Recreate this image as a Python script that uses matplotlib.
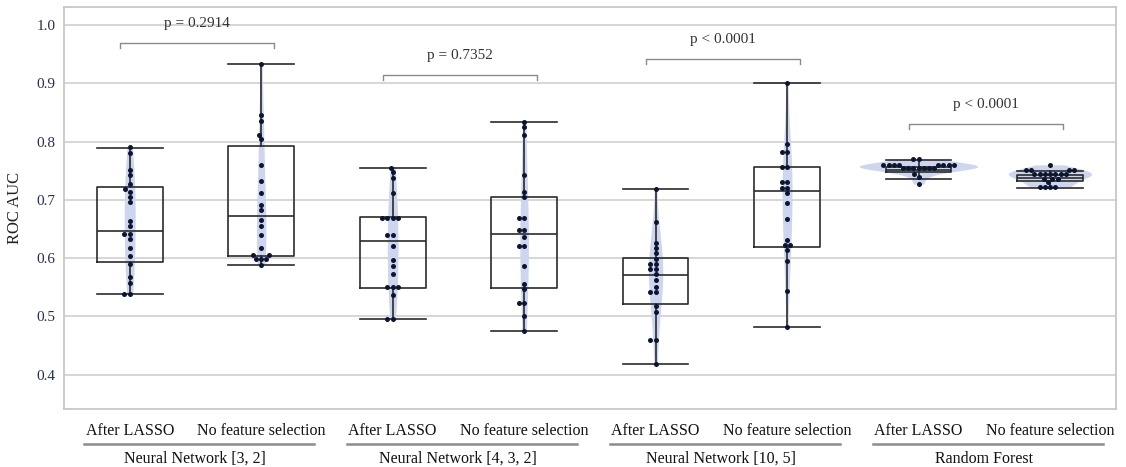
import numpy as np
import pandas as pd
import seaborn as sns
import matplotlib.pyplot as plt
import matplotlib.transforms as mtransforms

# ROC AUC per run
nn32_lasso = [0.790, 0.781, 0.751, 0.742, 0.727, 0.718, 0.714, 0.705, 0.696, 0.664, 0.655,
              0.642, 0.642, 0.632, 0.617, 0.604, 0.590, 0.567, 0.557, 0.539, 0.539]
nn32_full = [0.934, 0.845, 0.835, 0.812, 0.804, 0.759, 0.733, 0.712, 0.691, 0.682,
             0.666, 0.655, 0.639, 0.617, 0.605, 0.605, 0.598, 0.598, 0.598, 0.588]
nn432_lasso = [0.755, 0.747, 0.738, 0.711, 0.668, 0.668, 0.668, 0.668, 0.639, 0.639,
               0.621, 0.597, 0.587, 0.573, 0.551, 0.551, 0.551, 0.536, 0.496, 0.496]
nn432_full = [0.834, 0.825, 0.811, 0.743, 0.714, 0.705, 0.668, 0.668, 0.648, 0.648,
              0.636, 0.621, 0.621, 0.586, 0.556, 0.547, 0.523, 0.523, 0.500, 0.475]
nn105_lasso = [0.718, 0.662, 0.626, 0.617, 0.608, 0.599, 0.590, 0.590, 0.581, 0.581,
               0.572, 0.563, 0.551, 0.541, 0.541, 0.517, 0.507, 0.460, 0.460, 0.419]
nn105_full = [0.901, 0.796, 0.782, 0.782, 0.756, 0.756, 0.730, 0.730, 0.720, 0.720,
              0.711, 0.694, 0.667, 0.631, 0.622, 0.622, 0.614, 0.595, 0.544, 0.482]
rf_lasso = [0.770, 0.770, 0.760, 0.760, 0.760, 0.760, 0.760, 0.760, 0.760, 0.760,
            0.754, 0.754, 0.754, 0.754, 0.754, 0.754, 0.754, 0.745, 0.740, 0.727]
rf_full = [0.760, 0.751, 0.751, 0.751, 0.751, 0.744, 0.744, 0.744, 0.744, 0.744,
           0.744, 0.744, 0.735, 0.735, 0.735, 0.730, 0.722, 0.722, 0.722, 0.722]

# box statistics as drawn: whisker low, q1, median, q3, whisker high
box_stats = [
    (0.538, 0.593, 0.647, 0.722, 0.789),
    (0.588, 0.603, 0.672, 0.792, 0.934),
    (0.496, 0.549, 0.630, 0.670, 0.755),
    (0.475, 0.548, 0.641, 0.705, 0.834),
    (0.419, 0.521, 0.571, 0.600, 0.718),
    (0.482, 0.619, 0.715, 0.756, 0.901),
    (0.736, 0.747, 0.752, 0.757, 0.768),
    (0.720, 0.732, 0.738, 0.742, 0.750),
]

sub_labels = ['After LASSO', 'No feature selection']
models = ['Neural Network [3, 2]', 'Neural Network [4, 3, 2]',
          'Neural Network [10, 5]', 'Random Forest']
p_labels = ['p = 0.2914', 'p = 0.7352', 'p < 0.0001', 'p < 0.0001']
bracket_y = [0.969, 0.914, 0.942, 0.831]

series = [nn32_lasso, nn32_full, nn432_lasso, nn432_full,
          nn105_lasso, nn105_full, rf_lasso, rf_full]
order = ['g%d' % i for i in range(len(series))]
df = pd.DataFrame({'group': np.repeat(order, [len(s) for s in series]),
                   'auc': np.concatenate(series)})

plt.rcParams['font.family'] = ['Liberation Serif', 'DejaVu Serif']

fig = plt.figure(figsize=(11.26, 4.67), dpi=100)
ax = fig.add_axes([0.0568, 0.1242, 0.9341, 0.8608])

ax.set_axisbelow(True)
ax.yaxis.grid(True, color='#d6d6d6', linewidth=1.4)

sns.violinplot(data=df, x='group', y='auc', order=order, ax=ax, color='#cdd6ee',
               inner=None, linewidth=0, cut=0, density_norm='area', width=0.9,
               bw_adjust=1.3, saturation=1)
for coll in ax.collections:
    coll.set_zorder(1)

stats = [dict(whislo=s[0], q1=s[1], med=s[2], q3=s[3], whishi=s[4], fliers=[])
         for s in box_stats]
line_kw = dict(color='#2b2b2b', linewidth=1.2)
ax.bxp(stats, positions=range(len(stats)), widths=0.5, showfliers=False,
       patch_artist=False, boxprops=line_kw, whiskerprops=line_kw,
       capprops=line_kw, medianprops=line_kw, capwidths=0.5,
       manage_ticks=False, zorder=2)

sns.swarmplot(data=df, x='group', y='auc', order=order, ax=ax, color='#0c1633',
              size=3.6, zorder=3)

ax.set_xlim(-0.5, 7.5)
ax.set_ylim(0.341, 1.031)
ax.set_yticks([0.4, 0.5, 0.6, 0.7, 0.8, 0.9, 1.0])
ax.set_yticklabels(['0.4', '0.5', '0.6', '0.7', '0.8', '0.9', '1.0'])
ax.tick_params(axis='y', length=0, labelsize=11, labelcolor='#26304d', pad=6)
ax.set_xticks([])
ax.set_xlabel('')
ax.set_ylabel('ROC AUC', fontsize=12, color='#222222', labelpad=10)
for sp in ax.spines.values():
    sp.set_color('#c4c4c4')
    sp.set_linewidth(1.2)

# significance brackets
for i, (lab, yb) in enumerate(zip(p_labels, bracket_y)):
    x0, x1 = 2 * i - 0.07, 2 * i + 1 + 0.1
    ax.plot([x0, x0, x1, x1], [yb - 0.009, yb, yb, yb - 0.009],
            color='#8a8a8a', linewidth=1, zorder=4)
    ax.text((x0 + x1) / 2, yb + 0.022, lab, ha='center', va='bottom',
            fontsize=11, color='#333333')

# two-level category labels under the axis
trans = mtransforms.blended_transform_factory(ax.transData, ax.transAxes)
for i, model in enumerate(models):
    for j, sub in enumerate(sub_labels):
        ax.text(2 * i + j, -0.055, sub, transform=trans, ha='center',
                va='center', fontsize=11.5, color='#111111')
    ax.plot([2 * i - 0.35, 2 * i + 1.4], [-0.087, -0.087], transform=trans,
            color='#8c8c8c', linewidth=1.8, clip_on=False)
    ax.text(2 * i + 0.5, -0.124, model, transform=trans, ha='center',
            va='center', fontsize=11.5, color='#111111')

fig.savefig('out.png', dpi=100)
